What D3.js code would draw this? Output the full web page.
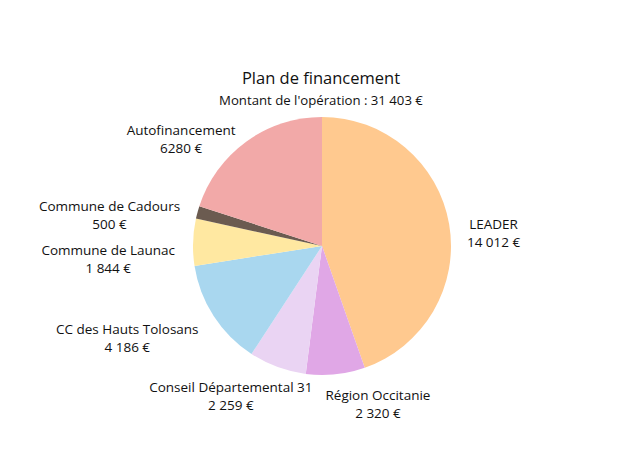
<!DOCTYPE html>
<html>
<head>
<meta charset="utf-8">
<script src="https://d3js.org/d3.v7.min.js"></script>
<style>
    body { margin: 0; background: #fff; font-family: "Open Sans", sans-serif; }
    text { fill: #111; }
</style>
</head>
<body>
<div id="chart"></div>
<script>
// data
var sources = ["LEADER", "Région Occitanie", "Conseil Départemental 31", "CC des Hauts Tolosans",
               "Commune de Launac", "Commune de Cadours", "Autofinancement"];
var amounts = [14012, 2320, 2259, 4186, 1844, 500, 6280];
var amountLabels = ["14 012 €", "2 320 €", "2 259 €", "4 186 €", "1 844 €", "500 €", "6280 €"];
var colors = ["#ffc98f", "#e0a7e6", "#ead4f3", "#a9d7ef", "#ffe8a1", "#6b5b50", "#f2a9a8"];

var W = 623, H = 450;
var cx = 322, cy = 246, radius = 129, labelR = 147;

var svg = d3.select("#chart").append("svg")
    .attr("width", W)
    .attr("height", H);

svg.append("text")
    .attr("x", 321).attr("y", 84)
    .attr("text-anchor", "middle")
    .attr("font-size", "16.5px")
    .text("Plan de financement");

svg.append("text")
    .attr("x", 321).attr("y", 105)
    .attr("text-anchor", "middle")
    .attr("font-size", "13.2px")
    .text("Montant de l'opération : 31 403 €");

var pie = d3.pie().sort(null).value(function(d) { return d; });
var arc = d3.arc().innerRadius(0).outerRadius(radius);
var arcs = pie(amounts);

var g = svg.append("g").attr("transform", "translate(" + cx + "," + cy + ")");

g.selectAll("path")
    .data(arcs)
    .enter().append("path")
    .attr("d", arc)
    .attr("fill", function(d, i) { return colors[i]; });

// labels
var labels = g.selectAll(".lbl")
    .data(arcs)
    .enter().append("text")
    .attr("class", "lbl")
    .attr("font-size", "13.5px");

labels.append("tspan").attr("class", "l1").text(function(d, i) { return sources[i]; });
labels.append("tspan").attr("class", "l2").text(function(d, i) { return amountLabels[i]; });

var boxes = [];
labels.each(function(d, i) {
    var a = (d.startAngle + d.endAngle) / 2;
    var px = Math.sin(a) * labelR, py = -Math.cos(a) * labelR;
    var w1 = this.querySelector(".l1").getComputedTextLength();
    var w2 = this.querySelector(".l2").getComputedTextLength();
    var w = Math.max(w1, w2);
    var side = Math.abs(Math.sin(a)) < 0.45 ? 0 : (Math.sin(a) > 0 ? 1 : -1);
    var centerX = side === 0 ? px : (side > 0 ? px + w / 2 : px - w / 2);
    boxes.push({el: this, x: centerX, y: py, w: w, side: side});
});

// spread labels that collide: side ones vertically, bottom ones horizontally
for (var k = 0; k < 20; k++) {
    for (var i = 0; i < boxes.length; i++) {
        for (var j = i + 1; j < boxes.length; j++) {
            var A = boxes[i], B = boxes[j], s;
            if (A.side !== B.side) continue;
            if (A.side === 0) {
                var needX = (A.w + B.w) / 2 + 13;
                if (Math.abs(A.x - B.x) < needX) {
                    s = (needX - Math.abs(A.x - B.x)) / 2;
                    if (A.x > B.x) { A.x += s; B.x -= s; } else { A.x -= s; B.x += s; }
                }
            } else {
                var needY = 44;
                if (Math.abs(A.y - B.y) < needY) {
                    s = (needY - Math.abs(A.y - B.y)) / 2;
                    if (A.y > B.y) { A.y += s; B.y -= s; } else { A.y -= s; B.y += s; }
                }
            }
        }
    }
}

boxes.forEach(function(b) {
    var t = d3.select(b.el).attr("text-anchor", "middle");
    t.select(".l1").attr("x", b.x).attr("y", b.y + 8);
    t.select(".l2").attr("x", b.x).attr("y", b.y + 26);
});
</script>
</body>
</html>
